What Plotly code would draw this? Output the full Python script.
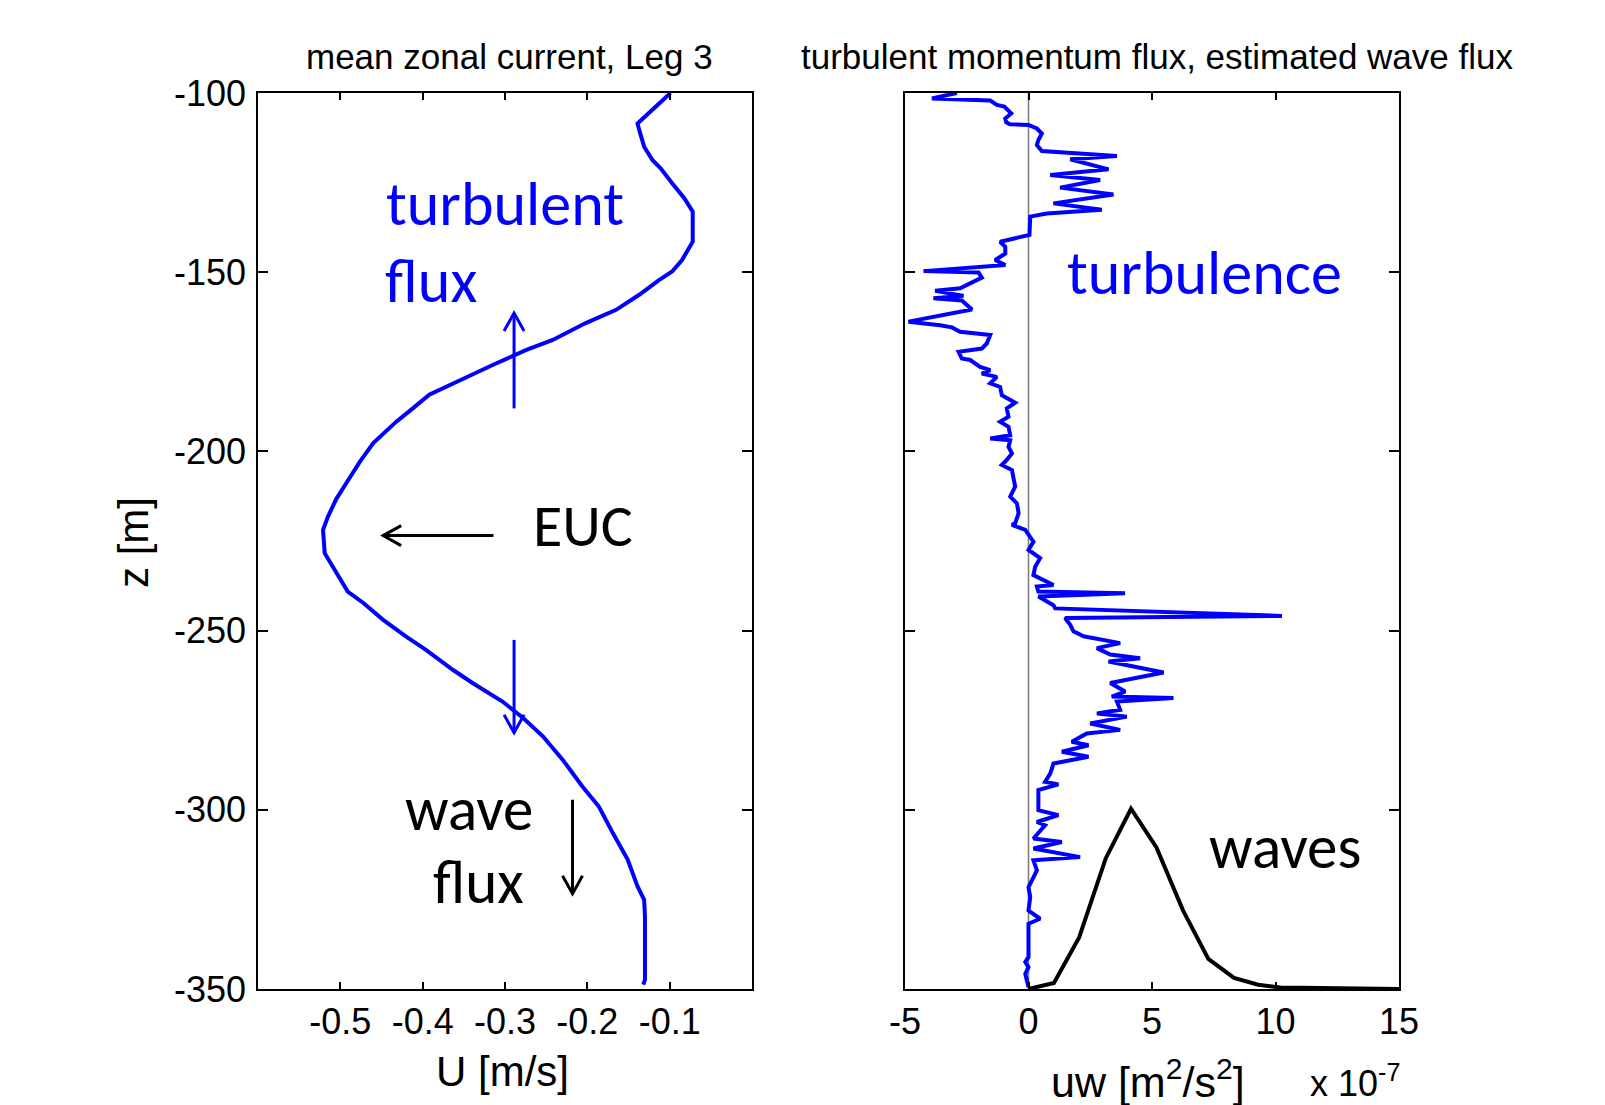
import plotly.graph_objects as go

# ---------------- data ----------------
# mean zonal current profile (Leg 3)
U_DEPTH = [-100.0, -103.8, -108.5, -110.3, -115.0, -118.7, -121.0, -125.2, -129.4, -133.1,
           -141.5, -146.6, -149.8, -152.2, -156.3, -160.5, -164.2, -168.9, -171.7, -175.9,
           -181.0, -184.2, -188.0, -191.7, -197.7, -202.8, -207.5, -213.3, -218.2, -221.9,
           -228.4, -234.0, -239.1, -242.3, -247.0, -251.7, -255.4, -261.0, -264.7, -269.8,
           -274.4, -279.5, -286.0, -293.5, -299.1, -306.5, -313.9, -321.4, -325.1, -329.8,
           -347.4, -348.8]
U_SPEED = [-0.099, -0.117, -0.139, -0.137, -0.131, -0.121, -0.111, -0.097, -0.082, -0.072,
           -0.072, -0.085, -0.097, -0.113, -0.137, -0.165, -0.202, -0.242, -0.274, -0.315,
           -0.363, -0.392, -0.412, -0.432, -0.460, -0.476, -0.489, -0.505, -0.515, -0.521,
           -0.519, -0.505, -0.491, -0.472, -0.448, -0.420, -0.396, -0.363, -0.339, -0.303,
           -0.278, -0.254, -0.230, -0.206, -0.186, -0.169, -0.151, -0.139, -0.131, -0.130,
           -0.130, -0.132]

# turbulent momentum flux uw (units of 1e-7 m^2/s^2)
TURB_DEPTH = [-100.0, -101.5, -102.1, -103.3, -103.8, -105.0, -105.7, -107.1, -108.2, -108.7,
              -108.9, -109.9, -111.3, -113.1, -114.5, -116.2, -117.6, -118.5, -121.3, -122.9,
              -124.3, -126.4, -128.3, -130.8, -132.6, -133.6, -134.5, -139.6, -141.5, -142.9,
              -144.8, -146.6, -148.0, -149.7, -150.1, -151.5, -154.5, -155.2, -156.6, -157.3,
              -157.9, -160.4, -163.8, -164.8, -165.4, -166.6, -167.5, -169.9, -171.3, -172.2,
              -174.1, -174.5, -176.4, -177.3, -178.3, -179.2, -181.0, -182.0, -184.3, -186.4,
              -188.0, -190.3, -191.7, -193.1, -195.5, -196.4, -196.9, -198.7, -200.6, -202.4,
              -203.8, -205.2, -207.1, -209.8, -212.6, -214.5, -217.2, -220.1, -220.5, -221.9,
              -225.2, -227.5, -229.8, -232.2, -234.5, -237.3, -237.7, -239.1, -239.6, -240.5,
              -242.9, -243.8, -245.9, -246.5, -248.4, -250.2, -251.6, -253.5, -254.9, -256.7,
              -257.7, -258.6, -261.7, -263.2, -264.6, -267.0, -268.4, -268.8, -269.8, -272.1,
              -273.1, -274.0, -275.9, -277.7, -278.7, -281.0, -282.0, -283.8, -285.2, -287.1,
              -289.9, -292.2, -292.9, -294.5, -300.1, -301.5, -303.4, -304.3, -308.0, -309.0,
              -310.8, -313.2, -314.1, -316.9, -321.6, -324.4, -328.1, -330.4, -331.8, -341.1,
              -342.5, -343.9, -345.8, -349.5]
TURB_UW = [-2.90, -3.91, -1.55, -1.28, -0.98, -0.80, -0.70, -0.94, -0.90, -0.75,
           0.00, 0.34, 0.54, 0.40, 0.34, 0.54, 3.58, 1.69, 3.24, 0.88,
           2.90, 1.28, 3.44, 1.01, 2.97, 0.74, 0.07, 0.04, -1.15, -0.94,
           -0.94, -1.35, -0.94, -4.25, -2.02, -1.89, -2.77, -3.78, -2.63, -3.85,
           -2.70, -2.29, -4.86, -3.58, -3.10, -2.77, -1.55, -1.69, -1.89, -2.83,
           -2.70, -2.36, -1.96, -1.55, -1.89, -1.28, -1.55, -1.15, -1.08, -0.54,
           -0.88, -0.81, -1.15, -0.81, -0.74, -1.55, -0.74, -0.81, -0.67, -0.88,
           -1.08, -0.67, -0.61, -0.54, -0.74, -0.47, -0.40, -0.54, -0.67, -0.13,
           0.20, 0.00, 0.47, 0.27, 0.20, 1.01, 0.34, 0.40, 3.91, 0.40,
           1.01, 1.08, 10.26, 1.48, 1.69, 1.82, 2.23, 3.71, 2.77, 3.31,
           4.52, 3.24, 5.47, 4.39, 3.31, 3.91, 3.37, 5.87, 3.58, 3.71,
           2.77, 3.98, 2.50, 3.71, 2.36, 1.75, 2.43, 1.35, 2.43, 1.01,
           0.88, 0.67, 1.21, 0.40, 0.40, 1.21, 0.34, 0.67, 0.20, 1.35,
           0.20, 2.09, 0.20, 0.34, 0.00, 0.07, 0.00, 0.47, 0.00, 0.00,
           -0.13, 0.00, -0.13, 0.00]

# estimated wave momentum flux (units of 1e-7 m^2/s^2)
WAVE_DEPTH = [-350.0, -348.3, -335.6, -313.5, -299.7, -310.5, -328.0, -341.6, -346.9,
              -348.8, -349.6, -349.7, -350.0]
WAVE_UW = [0.0, 1.03, 2.05, 3.13, 4.15, 5.18, 6.25, 7.28, 8.32, 9.30, 10.2, 12.5, 15.0]

X1_TICKS = [-0.5, -0.4, -0.3, -0.2, -0.1]
X1_LABELS = ["-0.5", "-0.4", "-0.3", "-0.2", "-0.1"]
X2_TICKS = [-5, 0, 5, 10, 15]
X2_LABELS = ["-5", "0", "5", "10", "15"]
Z_TICKS = [-100, -150, -200, -250, -300, -350]
Z_LABELS = ["-100", "-150", "-200", "-250", "-300", "-350"]

# ---------------- layout geometry ----------------
W, H = 1605, 1105
X1_PX = (258, 752)
X2_PX = (905, 1399)
Y_PX = (93, 989)
X1_RANGE = [-0.6, 0.0]
X2_RANGE = [-5, 15]
Z_RANGE = [-350, -100]

ARIAL = "Arial, Liberation Sans, sans-serif"
CALIBRI = "Calibri, Carlito, Lato, sans-serif"
BLUE = "#0000ff"


def px(x):
    return x / W


def py(y):
    return 1 - y / H


fig = go.Figure()

fig.add_trace(go.Scatter(x=U_SPEED, y=U_DEPTH, mode="lines",
                         line=dict(color=BLUE, width=4), xaxis="x", yaxis="y"))
fig.add_trace(go.Scatter(x=TURB_UW, y=TURB_DEPTH, mode="lines",
                         line=dict(color=BLUE, width=4), xaxis="x2", yaxis="y2"))
fig.add_trace(go.Scatter(x=WAVE_UW, y=WAVE_DEPTH, mode="lines",
                         line=dict(color="black", width=4), xaxis="x2", yaxis="y2"))

axis_common = dict(showgrid=False, zeroline=False, showline=True, linecolor="black",
                   linewidth=1.5, mirror="ticks", ticks="inside", tickcolor="black",
                   tickwidth=1.5, automargin=False,
                   tickfont=dict(family=ARIAL, size=36, color="black"))

fig.update_layout(
    width=W, height=H,
    margin=dict(l=0, r=0, t=0, b=0, autoexpand=False),
    paper_bgcolor="white", plot_bgcolor="white",
    showlegend=False, hovermode=False,
    xaxis=dict(domain=[px(X1_PX[0]), px(X1_PX[1])], range=X1_RANGE, anchor="y",
               tickmode="array", tickvals=X1_TICKS, ticktext=X1_LABELS, ticklen=7,
               ticklabelstandoff=0, **axis_common),
    yaxis=dict(domain=[py(Y_PX[1]), py(Y_PX[0])], range=Z_RANGE, anchor="x",
               tickmode="array", tickvals=Z_TICKS, ticktext=Z_LABELS, ticklen=10,
               ticklabelstandoff=3, **axis_common),
    xaxis2=dict(domain=[px(X2_PX[0]), px(X2_PX[1])], range=X2_RANGE, anchor="y2",
                tickmode="array", tickvals=X2_TICKS, ticktext=X2_LABELS, ticklen=7,
                ticklabelstandoff=0, **axis_common),
    yaxis2=dict(domain=[py(Y_PX[1]), py(Y_PX[0])], range=Z_RANGE, anchor="x2",
                tickmode="array", tickvals=Z_TICKS, showticklabels=False, ticklen=10,
                **axis_common),
)

# zero reference line in the flux panel
fig.add_shape(type="line", xref="x2", yref="y2 domain", x0=0, x1=0, y0=0, y1=1,
              line=dict(color="#7a7a7a", width=1.5), layer="below")


def text_at(text, cx, baseline, size, color, family=CALIBRI, anchor="center"):
    fig.add_annotation(text=text, xref="paper", yref="paper", x=px(cx),
                       y=py(baseline - 0.33 * size), xanchor=anchor, yanchor="middle",
                       showarrow=False, font=dict(family=family, size=size, color=color))


# panel titles
text_at("mean zonal current, Leg 3", 509, 68, 35, "black", ARIAL)
text_at("turbulent momentum flux, estimated wave flux", 1157, 68, 35, "black", ARIAL)

# axis titles
text_at("U [m/s]", 502, 1085, 42, "black", ARIAL)
fig.add_annotation(text="z [m]", xref="paper", yref="paper", x=px(133), y=py(543),
                   xanchor="center", yanchor="middle", textangle=-90, showarrow=False,
                   font=dict(family=ARIAL, size=42, color="black"))
text_at("uw [m<sup>2</sup>/s<sup>2</sup>]", 1148, 1093, 43, "black", ARIAL)
text_at("x 10<sup>-7</sup>", 1308, 1093, 36, "black", ARIAL, anchor="left")

# in-panel labels
text_at("turbulent", 505, 224, 62, BLUE)
text_at("flux", 431, 301, 62, BLUE)
text_at("EUC", 583, 545, 60, "black")
text_at("wave", 469, 829, 61, "black")
text_at("flux", 478, 902, 61, "black")
text_at("turbulence", 1204, 293, 62, BLUE)
text_at("waves", 1285, 867, 61, "black")

# flux-direction arrows (tail -> head, in data units of the left panel)
ARROWS = [
    ((-0.289, -188.0), (-0.289, -161.4), BLUE),
    ((-0.289, -252.6), (-0.289, -278.5), BLUE),
    ((-0.314, -223.5), (-0.448, -223.5), "black"),
    ((-0.218, -297.2), (-0.218, -323.4), "black"),
]

SX = (X1_PX[1] - X1_PX[0]) / (X1_RANGE[1] - X1_RANGE[0])
SY = (Y_PX[1] - Y_PX[0]) / (Z_RANGE[1] - Z_RANGE[0])
HEAD_LEN, HEAD_HALF = 18.0, 10.0

for (x0, z0), (x1, z1), col in ARROWS:
    # direction in screen pixels (y down)
    dxp, dyp = (x1 - x0) * SX, -(z1 - z0) * SY
    n = (dxp ** 2 + dyp ** 2) ** 0.5
    ux, uy = dxp / n, dyp / n
    pxn, pyn = -uy, ux
    pts = []
    for s in (1, -1):
        bx = -HEAD_LEN * ux + s * HEAD_HALF * pxn
        by = -HEAD_LEN * uy + s * HEAD_HALF * pyn
        pts.append((x1 + bx / SX, z1 - by / SY))
    fig.add_shape(type="line", xref="x", yref="y", x0=x0, y0=z0, x1=x1, y1=z1,
                  line=dict(color=col, width=3))
    path = f"M {pts[0][0]},{pts[0][1]} L {x1},{z1} L {pts[1][0]},{pts[1][1]}"
    fig.add_shape(type="path", xref="x", yref="y", path=path,
                  line=dict(color=col, width=3))

fig.write_html("out.html")
